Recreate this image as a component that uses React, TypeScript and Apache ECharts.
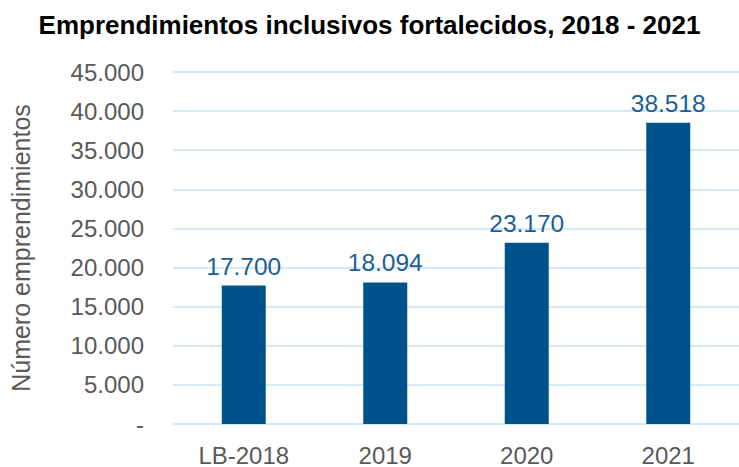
import React, { useEffect, useRef } from "react";
import * as echarts from "echarts";

const categories = ["LB-2018", "2019", "2020", "2021"];
const values = [17700, 18094, 23170, 38518];
const yTicks = [0, 5000, 10000, 15000, 20000, 25000, 30000, 35000, 40000, 45000];

const fmt = (v: number) => (v === 0 ? "-" : v.toLocaleString("de-DE"));

export default function App() {
  const ref = useRef<HTMLDivElement>(null);
  useEffect(() => {
    const chart = echarts.init(ref.current!, null, { renderer: "svg" });
    chart.setOption({
      animation: false,
      textStyle: { fontFamily: "Liberation Sans, Arial, sans-serif" },
      title: {
        text: "Emprendimientos inclusivos fortalecidos, 2018 - 2021",
        left: "center",
        top: 7,
        textStyle: { fontSize: 26, fontWeight: "bold", color: "#000", fontFamily: "Liberation Sans, Arial, sans-serif" },
      },
      grid: { left: 172, right: -3, top: 72, bottom: 41 },
      xAxis: {
        type: "category",
        data: categories,
        axisLine: { show: false },
        axisTick: { show: false },
        axisLabel: { fontSize: 24, color: "#595959", margin: 19 },
      },
      yAxis: {
        type: "value",
        min: yTicks[0],
        max: yTicks[yTicks.length - 1],
        interval: 5000,
        name: "Número emprendimientos",
        nameLocation: "middle",
        nameGap: 140,
        nameTextStyle: { fontSize: 25, color: "#595959" },
        axisLabel: { fontSize: 24, color: "#595959", margin: 29, formatter: fmt },
        splitLine: { lineStyle: { color: "#c6e3f5", width: 1.5 } },
      },
      series: [
        {
          type: "bar",
          data: values,
          barWidth: 44,
          itemStyle: { color: "#00538a" },
          label: {
            show: true,
            position: "top",
            distance: 7,
            fontSize: 24.5,
            color: "#1b5f94",
            formatter: (p: any) => fmt(p.value),
          },
        },
      ],
    });
    return () => chart.dispose();
  }, []);
  return (
    <div
      ref={ref}
      style={{ position: "absolute", left: 0, top: 0, width: 739, height: 467 }}
    />
  );
}
